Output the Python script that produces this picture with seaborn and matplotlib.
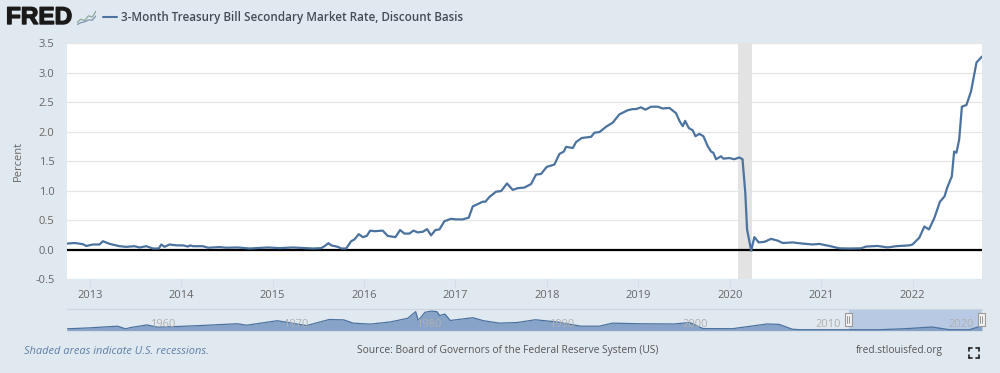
import matplotlib
matplotlib.use("Agg")
import matplotlib.pyplot as plt
import matplotlib.patheffects as pe
import seaborn as sns
import pandas as pd
from matplotlib.lines import Line2D
from matplotlib.patches import Rectangle

# values
years = [2012.75, 2012.833, 2012.924, 2012.961, 2013.034, 2013.106, 2013.143, 2013.216, 2013.325, 2013.398, 2013.489,
         2013.544, 2013.617, 2013.69, 2013.755, 2013.781, 2013.817, 2013.872, 2013.945, 2014.018, 2014.073, 2014.098,
         2014.127, 2014.237, 2014.291, 2014.419, 2014.492, 2014.619, 2014.747, 2014.948, 2015.075, 2015.221, 2015.44,
         2015.531, 2015.567, 2015.611, 2015.64, 2015.713, 2015.75, 2015.804, 2015.858, 2015.894, 2015.942, 2015.986,
         2016.03, 2016.066, 2016.113, 2016.204, 2016.259, 2016.343, 2016.394, 2016.441, 2016.496, 2016.54, 2016.587,
         2016.642, 2016.689, 2016.733, 2016.78, 2016.824, 2016.879, 2016.952, 2017.006, 2017.079, 2017.145, 2017.189,
         2017.243, 2017.298, 2017.327, 2017.371, 2017.444, 2017.499, 2017.564, 2017.626, 2017.681, 2017.754, 2017.827,
         2017.881, 2017.936, 2017.998, 2018.082, 2018.137, 2018.185, 2018.21, 2018.283, 2018.319, 2018.381, 2018.484,
         2018.52, 2018.575, 2018.647, 2018.72, 2018.793, 2018.884, 2018.939, 2018.976, 2019.03, 2019.078, 2019.14,
         2019.213, 2019.267, 2019.34, 2019.413, 2019.45, 2019.486, 2019.512, 2019.552, 2019.595, 2019.625, 2019.668,
         2019.712, 2019.76, 2019.796, 2019.821, 2019.85, 2019.905, 2019.93, 2019.996, 2020.05, 2020.105, 2020.14,
         2020.17, 2020.19, 2020.235, 2020.27, 2020.317, 2020.379, 2020.452, 2020.525, 2020.58, 2020.689, 2020.798,
         2020.908, 2020.98, 2021.09, 2021.2, 2021.309, 2021.436, 2021.491, 2021.619, 2021.728, 2021.819, 2021.965,
         2022.0, 2022.074, 2022.13, 2022.18, 2022.24, 2022.30, 2022.35, 2022.38, 2022.43, 2022.455, 2022.48, 2022.51,
         2022.54, 2022.59, 2022.64, 2022.70, 2022.76]
rates = [0.10, 0.11, 0.09, 0.06, 0.085, 0.085, 0.14, 0.096, 0.056, 0.045, 0.056,
         0.034, 0.056, 0.017, 0.017, 0.085, 0.045, 0.085, 0.07, 0.07, 0.05, 0.07,
         0.056, 0.056, 0.03, 0.04, 0.03, 0.034, 0.017, 0.034, 0.023, 0.034, 0.017,
         0.023, 0.056, 0.107, 0.07, 0.045, 0.017, 0.017, 0.14, 0.17, 0.26, 0.21,
         0.23, 0.32, 0.31, 0.32, 0.23, 0.21, 0.33, 0.27, 0.27, 0.32, 0.29,
         0.30, 0.345, 0.24, 0.33, 0.34, 0.48, 0.52, 0.51, 0.51, 0.54, 0.73,
         0.77, 0.81, 0.81, 0.89, 0.98, 0.99, 1.12, 1.01, 1.04, 1.05, 1.11,
         1.27, 1.28, 1.40, 1.44, 1.62, 1.66, 1.74, 1.72, 1.82, 1.89, 1.91,
         1.98, 1.99, 2.08, 2.15, 2.29, 2.36, 2.38, 2.38, 2.41, 2.37, 2.42,
         2.42, 2.39, 2.40, 2.31, 2.18, 2.09, 2.18, 2.06, 2.02, 1.92, 1.96,
         1.92, 1.75, 1.66, 1.64, 1.53, 1.58, 1.54, 1.55, 1.53, 1.56, 1.53,
         0.97, 0.34, -0.02, 0.21, 0.12, 0.13, 0.18, 0.15, 0.11, 0.12, 0.10,
         0.085, 0.095, 0.06, 0.02, 0.017, 0.02, 0.05, 0.06, 0.035, 0.056, 0.07,
         0.085, 0.20, 0.39, 0.34, 0.54, 0.81, 0.90, 1.05, 1.24, 1.66, 1.64, 1.86,
         2.42, 2.45, 2.68, 3.17, 3.27]

nav_years = [1954, 1955.7, 1957.8, 1958.4, 1958.8, 1960, 1960.8, 1962, 1964, 1966.8, 1967.5, 1969.8, 1972, 1973.7,
             1974.8, 1975.5, 1976.8, 1978.3, 1979.6, 1980.2, 1980.4, 1980.9, 1981.4, 1981.8, 1982, 1982.4, 1982.8,
             1984.5, 1985.3, 1986.5, 1987.8, 1989.2, 1990.8, 1992.6, 1994, 1995, 1997, 1999.6, 2000.8, 2001.8,
             2004, 2006.6, 2007.5, 2008.5, 2009, 2015, 2017, 2019, 2020.3, 2021.8, 2022.76]
nav_rates = [0.8, 1.6, 3.0, 0.8, 1.9, 4.0, 2.2, 2.6, 3.5, 5.0, 3.8, 7.5, 3.5, 8.5,
             8.2, 5.5, 4.7, 6.5, 9.5, 15.0, 7.7, 14.5, 15.5, 15.0, 11.8, 13.0, 7.7,
             10.0, 7.5, 5.5, 6.0, 8.3, 6.5, 3.0, 3.0, 5.5, 5.0, 4.8, 6.0, 1.0,
             0.9, 4.8, 4.5, 0.5, 0.1, 0.05, 0.9, 2.3, 0.1, 0.05, 3.25]

year_ticks = [2013, 2014, 2015, 2016, 2017, 2018, 2019, 2020, 2021, 2022]
rate_ticks = [-0.5, 0.0, 0.5, 1.0, 1.5, 2.0, 2.5, 3.0, 3.5]
nav_labels = [1960, 1970, 1980, 1990, 2000, 2010, 2020]
recession = (2020.09, 2020.24)

W, H = 1000, 373
BG = "#E1E9F0"
LINE = "#4C729F"
TXT = "#666666"

sns.set_theme(style="white")
plt.rcParams['font.family'] = ['Open Sans', 'DejaVu Sans']


def box(x0, y0, x1, y1):
    # pixel box to figure fractions
    return [x0 / W, 1 - y1 / H, (x1 - x0) / W, (y1 - y0) / H]


fig = plt.figure(figsize=(10, 3.73), dpi=100, facecolor=BG)

# main chart
ax = fig.add_axes(box(67, 43, 982, 279), facecolor="white")
df = pd.DataFrame({"year": years, "rate": rates})
ax.axvspan(*recession, color="#E3E3E3", lw=0, zorder=1)
sns.lineplot(data=df, x="year", y="rate", color=LINE, lw=1.6, ax=ax, zorder=4)
ax.axhline(0, color="black", lw=1.6, zorder=3)
ax.set_xlim(2012.75, 2022.76)
ax.set_ylim(-0.5, 3.5)
ax.set_xticks(year_ticks)
ax.set_xticklabels([str(y) for y in year_ticks])
ax.set_yticks(rate_ticks)
ax.set_yticklabels([f"{v:.1f}" for v in rate_ticks])
ax.grid(axis="y", color="#E6E6E6", lw=0.9, zorder=0)
ax.set_axisbelow(True)
ax.tick_params(axis="x", length=6, width=0.8, color="#D5DDE8", labelsize=8, labelcolor=TXT, pad=2, bottom=True)
ax.tick_params(axis="y", length=0, labelsize=8, labelcolor=TXT, pad=9)
ax.set_xlabel("")
ax.set_ylabel("Percent", fontsize=8, color=TXT)
ax.yaxis.set_label_coords(-0.0475, 0.5)
sns.despine(ax=ax, left=True, bottom=True, top=True, right=True)

# navigator
nav = fig.add_axes(box(67, 309, 982, 331), facecolor="none")
nav.set_xlim(1954, 2022.76)
nav.set_ylim(-1.0, 17.2)
nav.axvspan(2012.75, 2022.76, color="#B7C9E3", lw=0, zorder=1)
sns.lineplot(x=nav_years, y=nav_rates, color=LINE, lw=0.9, ax=nav, zorder=3)
nav.fill_between(nav_years, nav_rates, -1.0, color="#7F9CC4", alpha=0.9, lw=0, zorder=2)
for y in nav_labels:
    nav.text(y + 0.25, 4.5, str(y), fontsize=8, color="#B0B0B0", va="center", ha="left", zorder=4)
nav.set_xticks([])
nav.set_yticks([])
nav.set_xlabel("")
nav.set_ylabel("")
for s in ["left", "right", "bottom"]:
    nav.spines[s].set_visible(False)
nav.spines["top"].set_color("#CDD5DF")
nav.spines["top"].set_linewidth(0.9)
fig.add_artist(Line2D([67 / W, 982 / W], [1 - 331 / H] * 2, color="#D5DDE8", lw=0.8))

# navigator handles
for hx in (848, 981):
    fig.add_artist(Rectangle(((hx - 3.5) / W, 1 - 326 / H), 7 / W, 13 / H, transform=fig.transFigure,
                             facecolor="#F2F2F2", edgecolor="#999999", lw=0.8, zorder=6))
    fig.add_artist(Line2D([(hx - 1) / W] * 2, [1 - 323 / H, 1 - 316 / H], color="#888888", lw=0.6, zorder=7))
    fig.add_artist(Line2D([(hx + 1) / W] * 2, [1 - 323 / H, 1 - 316 / H], color="#888888", lw=0.6, zorder=7))

# header
fig.text(6 / W, 1 - 17.5 / H, "FRED", fontsize=17.5, fontweight="bold", color="#1A1A1A", va="center", ha="left",
         family=["Liberation Sans", "DejaVu Sans"],
         path_effects=[pe.withStroke(linewidth=1.0, foreground="#1A1A1A")])
icon = fig.add_axes(box(77, 9, 96, 26), facecolor=BG)
icon.plot([0, 1, 2, 3, 4, 5], [1, 2, 1.6, 3, 2.6, 4.4], color="#8FA89A", lw=0.9)
icon.plot([0, 1, 2, 3, 4, 5], [0.4, 1, 1.2, 1.8, 1.7, 3], color="#7F93AD", lw=0.9)
icon.set_xticks([])
icon.set_yticks([])
icon.set_xlim(0, 5)
icon.set_ylim(0, 5)
for s in icon.spines.values():
    s.set_visible(False)
fig.add_artist(Line2D([103 / W, 117 / W], [1 - 17 / H] * 2, color=LINE, lw=1.5))
fig.text(121 / W, 1 - 17.5 / H, "3-Month Treasury Bill Secondary Market Rate, Discount Basis", fontsize=8.4,
         fontweight=600, color="#444B54", va="center", ha="left")

# footer
fig.text(24 / W, 1 - 351 / H, "Shaded areas indicate U.S. recessions.", fontsize=7.9, style="italic", color="#5F7FA8",
         va="center", ha="left")
fig.text(357 / W, 1 - 351 / H, "Source: Board of Governors of the Federal Reserve System (US)", fontsize=7.4,
         color="#555555", va="center", ha="left")
fig.text(856 / W, 1 - 351 / H, "fred.stlouisfed.org", fontsize=7.3, color="#555555", va="center", ha="left")

# fullscreen icon corners
x0, x1, y0, y1, c = 969, 979, 348, 358, 3
for cx, cy, dx, dy in [(x0, y0, 1, 1), (x1, y0, -1, 1), (x0, y1, 1, -1), (x1, y1, -1, -1)]:
    fig.add_artist(Line2D([cx / W, (cx + dx * c) / W], [1 - cy / H] * 2, color="#222222", lw=1.2))
    fig.add_artist(Line2D([cx / W] * 2, [1 - cy / H, 1 - (cy + dy * c) / H], color="#222222", lw=1.2))

fig.savefig("out.png", dpi=100, facecolor=BG)
